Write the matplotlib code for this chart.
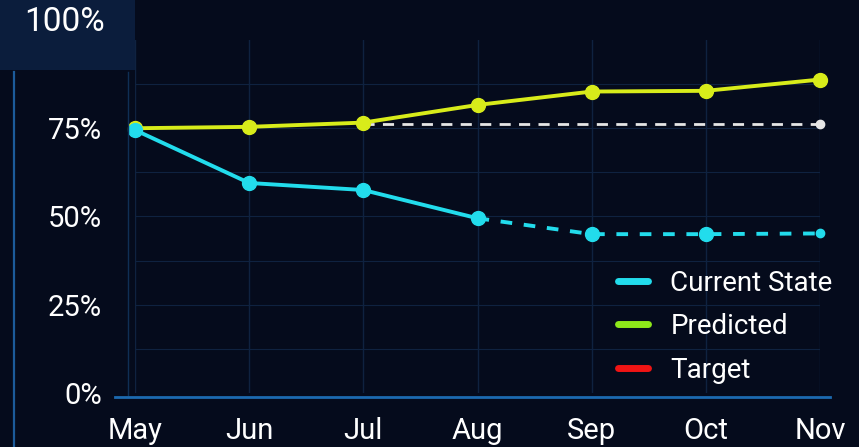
import numpy as np
import matplotlib.pyplot as plt
from matplotlib.patches import Rectangle
from matplotlib.lines import Line2D

plt.rcParams['font.family'] = ['Roboto', 'DejaVu Sans']

# --- data ---
months = ['May', 'Jun', 'Jul', 'Aug', 'Sep', 'Oct', 'Nov']
current = [74.5, 59.5, 57.5, 49.5, 45.0, 45.0, 45.2]
predicted = [75.0, 75.4, 76.6, 81.6, 85.4, 85.6, 88.8]
target_months = ['Jul', 'Aug', 'Sep', 'Oct', 'Nov']
target = [76.3, 76.3, 76.3, 76.3, 76.3]
y_ticks = [0, 25, 50, 75]
y_ticklabels = ['0%', '25%', '50%', '75%']

bg = '#050b1c'
cyan = '#22dcec'
lime = '#d8ec1a'
grid_c = '#0f2240'

fig = plt.figure(figsize=(8.59, 4.47), dpi=100)
fig.patch.set_facecolor(bg)

# outer frame and top-left box
fig.add_artist(Rectangle((0, 1 - 70 / 447), 135 / 859, 70 / 447, transform=fig.transFigure,
                         facecolor='#0b1d3c', edgecolor='none', zorder=0))
fig.add_artist(Line2D([14 / 859, 14 / 859], [0.0, 1 - 72 / 447], transform=fig.transFigure,
                      color='#1c5b9a', lw=1.6))
fig.add_artist(Line2D([128 / 859, 128 / 859], [1 - 395 / 447, 1 - 72 / 447],
                      transform=fig.transFigure, color='#0f2f55', lw=1))
fig.add_artist(Line2D([115 / 859, 830 / 859], [1 - 397 / 447, 1 - 397 / 447],
                      transform=fig.transFigure, color='#1c6ab0', lw=2))
fig.text(65 / 859, 1 - 22 / 447, '100%', color='white', fontsize=24,
         ha='center', va='center')

ax = fig.add_axes([135 / 859, 1 - 393 / 447, (820 - 135) / 859, (393 - 40) / 447])
ax.set_facecolor(bg)
ax.patch.set_alpha(0)
x = np.arange(len(months))
idx = {m: i for i, m in enumerate(months)}
tx = [idx[m] for m in target_months]

ax.set_xlim(0, len(months) - 1)
ax.set_ylim(0, 100)
for s in ax.spines.values():
    s.set_visible(False)

for xi in x:
    ax.axvline(xi, color=grid_c, lw=1, zorder=0)
for yi in [12.5, 25, 37.5, 50, 62.5, 75, 87.5]:
    ax.axhline(yi, color=grid_c, lw=0.8, zorder=0)

# target (dashed white)
ax.plot(tx, target, color='#e6e6e6', lw=2, ls=(0, (4, 3)), zorder=2)
ax.plot(tx[-1], target[-1], 'o', color='#e6e6e6', ms=6, clip_on=False, zorder=3)

# predicted
ax.plot(x, predicted, color=lime, lw=2.8, zorder=4)
ax.plot(x, predicted, 'o', color=lime, ms=10, clip_on=False, zorder=5)

# current: solid until Aug, dashed afterwards
split = idx['Aug']
ax.plot(x[:split + 1], current[:split + 1], color=cyan, lw=2.8, zorder=4)
ax.plot(x[split:], current[split:], color=cyan, lw=2.8, ls=(0, (3, 3)), zorder=4)
ax.plot(x[:-1], current[:-1], 'o', color=cyan, ms=10, clip_on=False, zorder=5)
ax.plot(x[-1], current[-1], 'o', color=cyan, ms=6, clip_on=False, zorder=5)

ax.set_xticks(x)
ax.set_xticklabels(months)
ax.set_yticks(y_ticks)
ax.set_yticklabels(y_ticklabels)
ax.tick_params(colors='white', labelsize=21, length=0)
ax.tick_params(axis='x', pad=17)
ax.tick_params(axis='y', pad=24)

handles = [Line2D([], [], color=cyan, lw=5, solid_capstyle='round'),
           Line2D([], [], color='#8ee81a', lw=5, solid_capstyle='round'),
           Line2D([], [], color='#f01414', lw=5, solid_capstyle='round')]
leg = ax.legend(handles, ['Current State', 'Predicted', 'Target'],
                loc='lower right', bbox_to_anchor=(1.055, -0.045), frameon=False,
                fontsize=20, labelcolor='white', handlelength=1.1,
                handletextpad=0.8, labelspacing=0.6)

fig.savefig('out.png', dpi=100, facecolor=bg)
